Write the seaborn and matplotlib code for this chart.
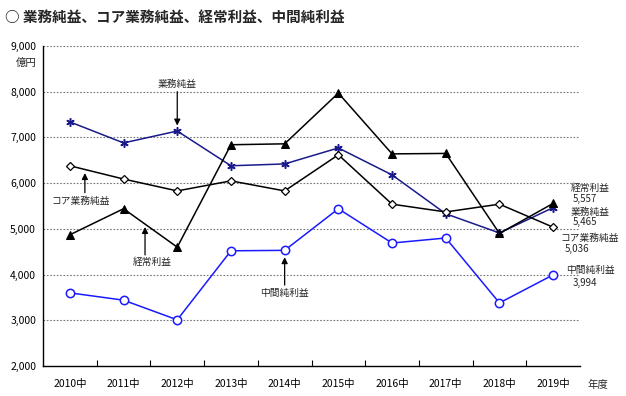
import matplotlib
matplotlib.use("Agg")
import matplotlib.pyplot as plt
import seaborn as sns
import numpy as np
import pandas as pd
from matplotlib.ticker import FuncFormatter, FixedLocator

years = ["2010中", "2011中", "2012中", "2013中", "2014中", "2015中", "2016中", "2017中", "2018中", "2019中"]
gyomu = [7340, 6880, 7140, 6380, 6420, 6770, 6180, 5330, 4910, 5465]
core = [6380, 6090, 5830, 6050, 5830, 6620, 5540, 5370, 5540, 5036]
keijo = [4870, 5440, 4600, 6840, 6860, 7970, 6640, 6650, 4900, 5557]
chukan = [3600, 3440, 3010, 4520, 4530, 5440, 4690, 4800, 3380, 3994]

sns.set_theme(style="white")
plt.rcParams['font.family'] = ['Noto Sans CJK JP', 'DejaVu Sans']

fig = plt.figure(figsize=(6.26, 3.96), dpi=100)
ax = fig.add_axes([43/626, 1-366/396, (580-43)/626, (366-46)/396])

x = np.arange(len(years))
df = pd.DataFrame({"x": x, "業務純益": gyomu, "コア業務純益": core, "経常利益": keijo, "中間純利益": chukan})

sns.lineplot(data=df, x="x", y="業務純益", ax=ax, color="#1a1a8c", lw=1.1,
             marker=(6, 2, 0), markersize=6, markeredgewidth=1.1, markeredgecolor="#1a1a8c")
sns.lineplot(data=df, x="x", y="コア業務純益", ax=ax, color="black", lw=1.1,
             marker="D", markersize=4, markerfacecolor="white", markeredgecolor="black", markeredgewidth=0.9)
sns.lineplot(data=df, x="x", y="経常利益", ax=ax, color="black", lw=1.1,
             marker="^", markersize=6, markerfacecolor="black", markeredgecolor="black")
sns.lineplot(data=df, x="x", y="中間純利益", ax=ax, color="#1a1aff", lw=1.1,
             marker="o", markersize=6, markerfacecolor="white", markeredgecolor="#1a1aff", markeredgewidth=1.1)

ax.set_xlim(-0.5, len(years) - 0.5)
ax.set_ylim(2000, 9000)
ax.set_xlabel("")
ax.set_ylabel("")

ax.set_yticks(np.arange(2000, 9001, 1000))
ax.yaxis.set_major_formatter(FuncFormatter(lambda v, p: f"{int(v):,}"))
ax.set_xticks(x)
ax.set_xticklabels(years)
ax.xaxis.set_minor_locator(FixedLocator(np.arange(0.5, len(years) - 0.5, 1.0)))
ax.tick_params(axis="x", which="major", length=0, pad=9, labelsize=7.5, colors="black")
ax.tick_params(axis="x", which="minor", length=4, direction="in", width=0.8, color="black", bottom=True)
ax.tick_params(axis="y", which="major", length=0, pad=5, labelsize=7.5, colors="black")

for yv in range(3000, 10000, 1000):
    ax.axhline(yv, color="#777777", lw=0.8, ls=(0, (1.5, 1.5)), zorder=0)

ax.spines["right"].set_visible(False)
ax.spines["top"].set_visible(False)
ax.spines["left"].set_color("black")
ax.spines["bottom"].set_color("black")
ax.spines["left"].set_linewidth(1.0)
ax.spines["bottom"].set_linewidth(1.0)

fs = 7
ap = dict(arrowstyle="-|>", color="black", lw=0.9, mutation_scale=9, shrinkA=0, shrinkB=0)
ax.annotate("", xy=(2, 7260), xytext=(2, 8000), arrowprops=ap)
ax.text(2, 8170, "業務純益", ha="center", va="center", fontsize=fs)
ax.annotate("", xy=(0.28, 6220), xytext=(0.28, 5790), arrowprops=ap)
ax.text(0.2, 5610, "コア業務純益", ha="center", va="center", fontsize=fs)
ax.annotate("", xy=(1.4, 5040), xytext=(1.4, 4430), arrowprops=ap)
ax.text(1.53, 4280, "経常利益", ha="center", va="center", fontsize=fs)
ax.annotate("", xy=(4, 4380), xytext=(4, 3770), arrowprops=ap)
ax.text(4, 3600, "中間純利益", ha="center", va="center", fontsize=fs)

rx = 9.33
ax.text(rx, 5895, "経常利益", ha="left", va="center", fontsize=fs, clip_on=False)
ax.text(rx + 0.04, 5650, f"{keijo[-1]:,}", ha="left", va="center", fontsize=fs, clip_on=False)
ax.text(rx, 5370, "業務純益", ha="left", va="center", fontsize=fs, clip_on=False)
ax.text(rx + 0.04, 5150, f"{gyomu[-1]:,}", ha="left", va="center", fontsize=fs, clip_on=False)
ax.text(rx - 0.2, 4800, "コア業務純益", ha="left", va="center", fontsize=fs, clip_on=False)
ax.text(rx - 0.12, 4560, f"{core[-1]:,}", ha="left", va="center", fontsize=fs, clip_on=False)
ax.text(rx - 0.08, 4100, "中間純利益", ha="left", va="center", fontsize=fs, clip_on=False)
ax.text(rx + 0.04, 3815, f"{chukan[-1]:,}", ha="left", va="center", fontsize=fs, clip_on=False)

fig.text(5/626, 1-17/396, "○ 業務純益、コア業務純益、経常利益、中間純利益", ha="left", va="center",
         fontsize=10.5, fontweight="bold")
fig.text(37/626, 1-63/396, "億円", ha="right", va="center", fontsize=7.5)
fig.text(598/626, 1-385/396, "年度", ha="center", va="center", fontsize=7.5)

fig.savefig("out.png", dpi=100)
